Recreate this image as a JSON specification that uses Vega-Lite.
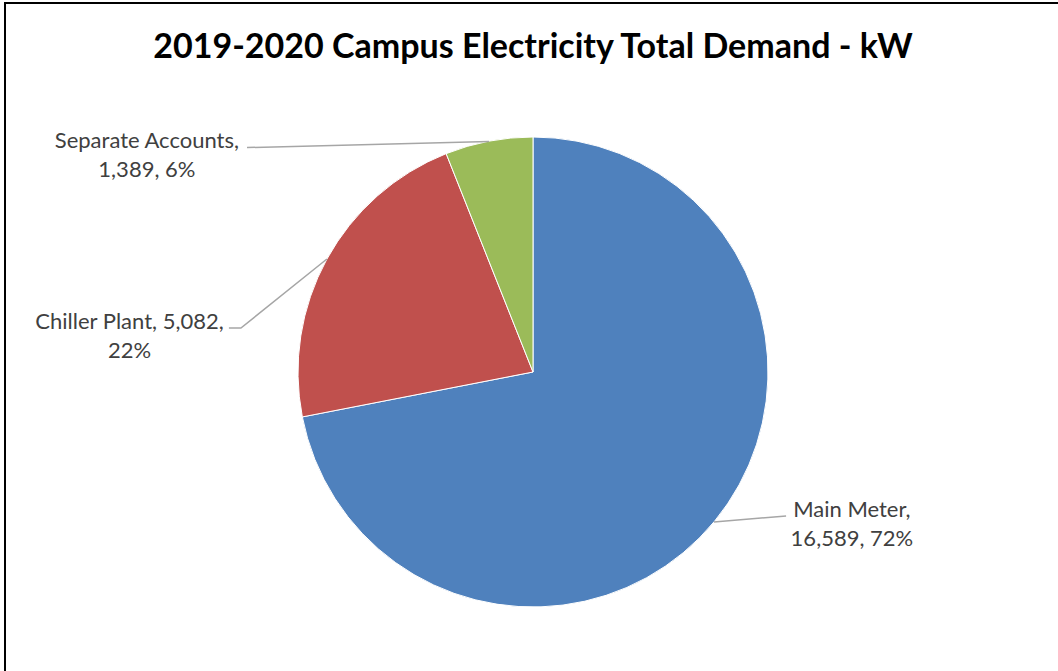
{
  "$schema": "https://vega.github.io/schema/vega-lite/v6.json",
  "width": 1056,
  "height": 738,
  "autosize": {"type": "none"},
  "padding": {"left": 5, "top": 3, "right": 0, "bottom": 0},
  "background": "white",
  "title": {
    "text": "2019-2020 Campus Electricity Total Demand - kW",
    "font": "Lato",
    "fontSize": 34,
    "fontWeight": "bold",
    "color": "#000000",
    "anchor": "middle",
    "frame": "group",
    "baseline": "middle",
    "offset": -44,
    "dy": 35
  },
  "config": {"view": {"stroke": "#000000", "strokeWidth": 2}},
  "datasets": {
    "slices": [
      {"category": "Main Meter", "kW": 16589, "order": 1},
      {"category": "Chiller Plant", "kW": 5082, "order": 2},
      {"category": "Separate Accounts", "kW": 1389, "order": 3}
    ],
    "labels": [
      {"category": "Separate Accounts", "text": "Separate Accounts,\n1,389, 6%", "lx": -1.643, "ly": 0.983},
      {"category": "Chiller Plant", "text": "Chiller Plant, 5,082,\n22%", "lx": -1.717, "ly": 0.213},
      {"category": "Main Meter", "text": "Main Meter,\n16,589, 72%", "lx": 1.357, "ly": -0.587}
    ],
    "leaders": [
      {"category": "Separate Accounts", "pt": 1, "x": -1.217, "y": 0.955},
      {"category": "Separate Accounts", "pt": 2, "x": -0.187, "y": 0.981},
      {"category": "Chiller Plant", "pt": 1, "x": -1.294, "y": 0.187},
      {"category": "Chiller Plant", "pt": 2, "x": -1.243, "y": 0.187},
      {"category": "Chiller Plant", "pt": 3, "x": -0.877, "y": 0.481},
      {"category": "Main Meter", "pt": 1, "x": 0.77, "y": -0.638},
      {"category": "Main Meter", "pt": 2, "x": 1.077, "y": -0.613}
    ]
  },
  "layer": [
    {
      "data": {"name": "slices"},
      "mark": {"type": "arc", "radius": 235, "stroke": "white", "strokeWidth": 1},
      "encoding": {
        "theta": {"field": "kW", "type": "quantitative", "stack": true},
        "order": {"field": "order", "type": "quantitative"},
        "color": {
          "field": "category",
          "type": "nominal",
          "scale": {
            "domain": ["Main Meter", "Chiller Plant", "Separate Accounts"],
            "range": ["#4F81BD", "#C0504D", "#9BBB59"]
          },
          "legend": null
        }
      }
    },
    {
      "data": {"name": "leaders"},
      "mark": {"type": "line", "color": "#A6A6A6", "strokeWidth": 1.5},
      "encoding": {
        "x": {"field": "x", "type": "quantitative", "scale": {"domain": [-2.2468, 2.2468], "nice": false, "zero": false}, "axis": null},
        "y": {"field": "y", "type": "quantitative", "scale": {"domain": [-1.5702, 1.5702], "nice": false, "zero": false}, "axis": null},
        "detail": {"field": "category", "type": "nominal"},
        "order": {"field": "pt", "type": "quantitative"}
      }
    },
    {
      "data": {"name": "labels"},
      "mark": {"type": "text", "font": "Lato", "fontSize": 22, "color": "#404040", "lineBreak": "\n", "lineHeight": 29, "align": "center", "baseline": "middle"},
      "encoding": {
        "x": {"field": "lx", "type": "quantitative", "scale": {"domain": [-2.2468, 2.2468], "nice": false, "zero": false}, "axis": null},
        "y": {"field": "ly", "type": "quantitative", "scale": {"domain": [-1.5702, 1.5702], "nice": false, "zero": false}, "axis": null},
        "text": {"field": "text", "type": "nominal"}
      }
    }
  ]
}
